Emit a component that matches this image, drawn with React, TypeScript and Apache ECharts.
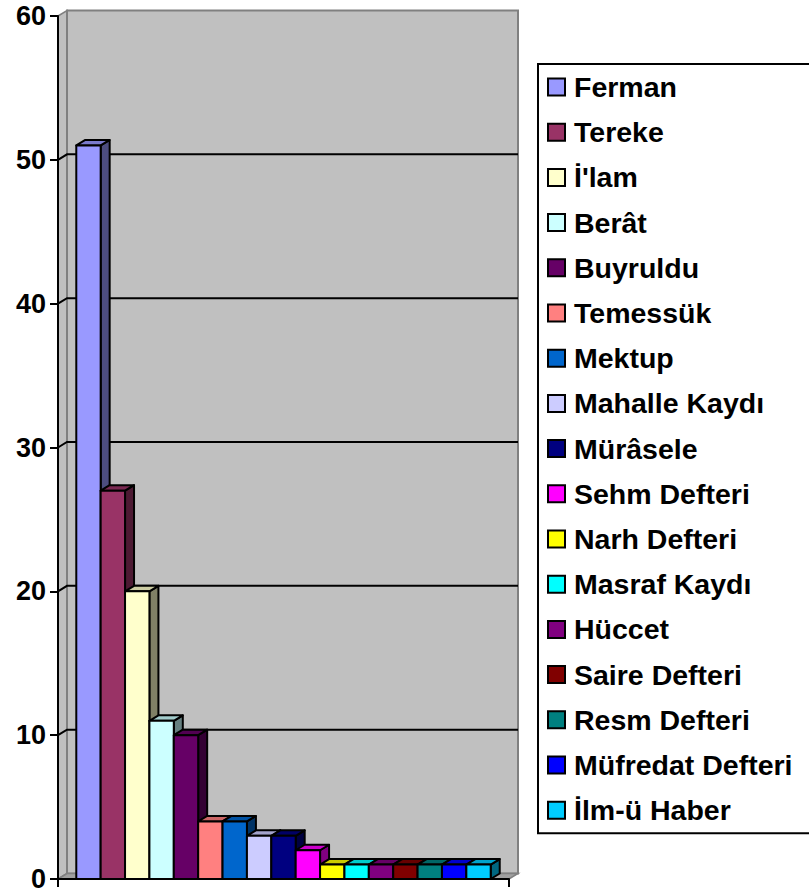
import React, { useEffect, useRef } from "react";
import * as echarts from "echarts";

const CATEGORIES = [
  "Ferman", "Tereke", "İ'lam", "Berât", "Buyruldu", "Temessük", "Mektup",
  "Mahalle Kaydı", "Mürâsele", "Sehm Defteri", "Narh Defteri", "Masraf Kaydı",
  "Hüccet", "Saire Defteri", "Resm Defteri", "Müfredat Defteri", "İlm-ü Haber",
];
const VALUES = [51, 27, 20, 11, 10, 4, 4, 3, 3, 2, 1, 1, 1, 1, 1, 1, 1];
const COLORS = [
  "#9999FF", "#993366", "#FFFFCC", "#CCFFFF", "#660066", "#FF8080", "#0066CC",
  "#CCCCFF", "#000080", "#FF00FF", "#FFFF00", "#00FFFF", "#800080", "#800000",
  "#008080", "#0000FF", "#00CCFF",
];
const Y_MAX = 60;
const Y_INTERVAL = 10;
const GRID_TICKS = [10, 20, 30, 40, 50];

// layout constants
const X_MAX = 18.5;
const GAP = 0.75;
const DX = 9;
const DY = -5.5;
const FONT = "'Liberation Sans', Arial, sans-serif";

function shade(hex: string, f: number): string {
  const n = parseInt(hex.slice(1), 16);
  const r = Math.round(((n >> 16) & 255) * f);
  const g = Math.round(((n >> 8) & 255) * f);
  const b = Math.round((n & 255) * f);
  return `rgb(${r},${g},${b})`;
}

export default function App() {
  const ref = useRef<HTMLDivElement>(null);
  useEffect(() => {
    if (!ref.current) return;
    const chart = echarts.init(ref.current, undefined, { renderer: "svg" });

    const wallSeries: any = {
      type: "custom",
      name: "__walls",
      silent: true,
      z: 1,
      data: [[0, 0]],
      renderItem: (_params: any, api: any) => {
        const off = (p: number[]) => [p[0] + DX, p[1] + DY];
        const fTL = api.coord([0, Y_MAX]);
        const fBL = api.coord([0, 0]);
        const fBR = api.coord([X_MAX, 0]);
        const bTL = off(fTL);
        const bBL = off(fBL);
        const bBR = off(fBR);
        const children: any[] = [
          {
            type: "polygon",
            shape: { points: [fTL, bTL, bBL, fBL] },
            style: { fill: "#c0c0c0", stroke: "#808080", lineWidth: 1.5 },
          },
          {
            type: "rect",
            shape: { x: bTL[0], y: bTL[1], width: bBR[0] - bTL[0], height: bBR[1] - bTL[1] },
            style: { fill: "#c0c0c0", stroke: "#808080", lineWidth: 2 },
          },
          {
            type: "polygon",
            shape: { points: [fBL, bBL, bBR, fBR] },
            style: { fill: "#a0a0a0", stroke: "#808080", lineWidth: 1.5 },
          },
        ];
        GRID_TICKS.forEach((v) => {
          const f = api.coord([0, v]);
          const b = off(f);
          const br = off(api.coord([X_MAX, v]));
          children.push({
            type: "polyline",
            shape: { points: [f, b, br] },
            style: { stroke: "#000", lineWidth: 2, fill: null },
          });
        });
        return { type: "group", children };
      },
    };

    const barSeries = CATEGORIES.map((name, i) => ({
      type: "custom",
      name,
      z: 2,
      itemStyle: { color: COLORS[i] },
      data: [[i, VALUES[i]]],
      renderItem: (_params: any, api: any) => {
        const idx = api.value(0);
        const val = api.value(1);
        const p0 = api.coord([idx + GAP, 0]);
        const p1 = api.coord([idx + GAP + 1, val]);
        const left = p0[0];
        const right = p1[0];
        const bottom = p0[1];
        const top = p1[1];
        const color = COLORS[i];
        const stroke = { stroke: "#000", lineWidth: 2, lineJoin: "round" };
        return {
          type: "group",
          children: [
            {
              type: "polygon",
              shape: { points: [[right, top], [right + DX, top + DY], [right + DX, bottom + DY], [right, bottom]] },
              style: { fill: shade(color, 0.5), ...stroke },
            },
            {
              type: "polygon",
              shape: { points: [[left, top], [left + DX, top + DY], [right + DX, top + DY], [right, top]] },
              style: { fill: shade(color, 0.8), ...stroke },
            },
            {
              type: "rect",
              shape: { x: left, y: top, width: right - left, height: bottom - top },
              style: { fill: color, ...stroke },
            },
          ],
        };
      },
    }));

    chart.setOption({
      animation: false,
      backgroundColor: "#ffffff",
      grid: { left: 58, right: 300, top: 16, bottom: 16, containLabel: false },
      xAxis: {
        type: "value",
        min: 0,
        max: X_MAX,
        interval: X_MAX,
        z: 10,
        axisLine: { show: true, lineStyle: { color: "#000", width: 2 } },
        axisTick: { show: true, length: 8, lineStyle: { color: "#000", width: 2 } },
        axisLabel: { show: false },
        splitLine: { show: false },
      },
      yAxis: {
        type: "value",
        min: 0,
        max: Y_MAX,
        interval: Y_INTERVAL,
        z: 10,
        axisLine: { show: true, lineStyle: { color: "#000", width: 2 } },
        axisTick: { show: true, length: 8, lineStyle: { color: "#000", width: 2 } },
        axisLabel: {
          color: "#000",
          fontSize: 27,
          fontWeight: "bold",
          fontFamily: FONT,
          margin: 12,
        },
        splitLine: { show: false },
      },
      legend: {
        orient: "vertical",
        left: 538,
        top: 64,
        data: CATEGORIES,
        icon: "rect",
        itemWidth: 17,
        itemHeight: 17,
        itemGap: 15.2,
        selectedMode: false,
        padding: [8, 80, 8, 9],
        borderColor: "#000",
        borderWidth: 2,
        itemStyle: { borderColor: "#000", borderWidth: 2 },
        textStyle: {
          color: "#000",
          fontSize: 28.5,
          fontWeight: "bold",
          fontFamily: FONT,
          lineHeight: 30,
          padding: [0, 0, 0, 4],
        },
      },
      series: [wallSeries, ...barSeries],
    });
    return () => chart.dispose();
  }, []);
  return (
    <div
      ref={ref}
      style={{ position: "fixed", left: 0, top: 0, width: 809, height: 895 }}
    />
  );
}
